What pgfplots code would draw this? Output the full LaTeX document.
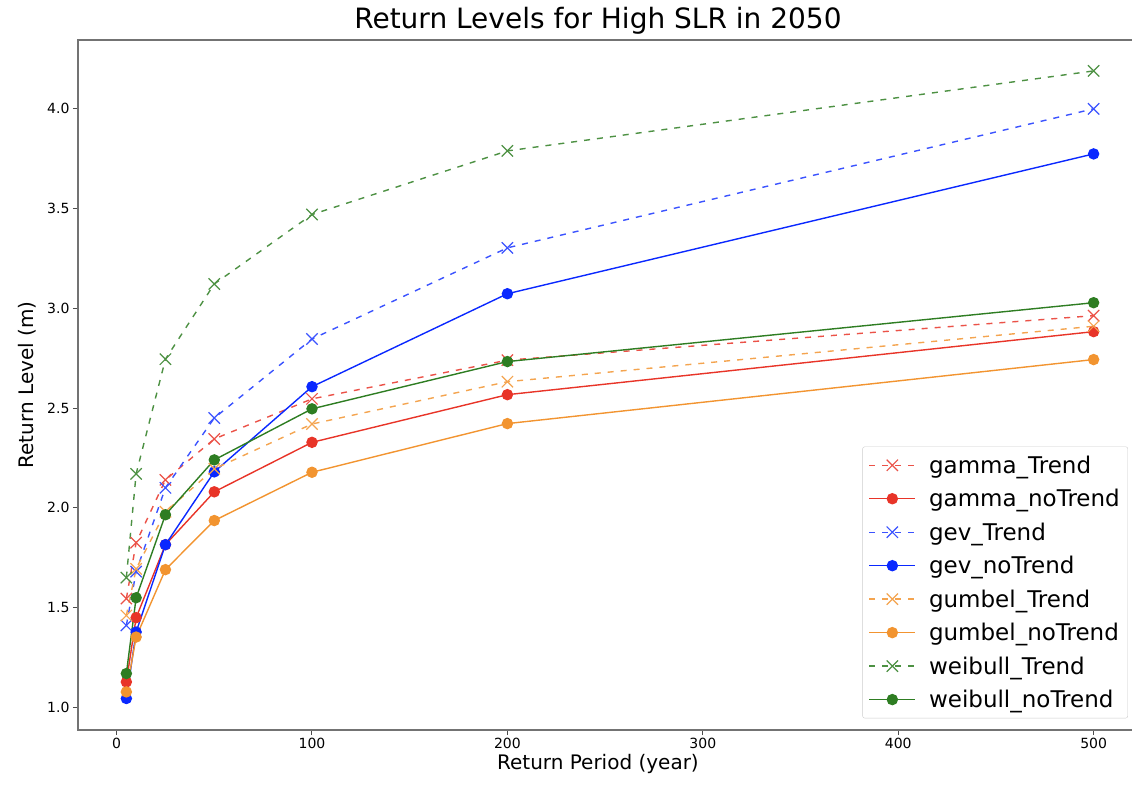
\documentclass[border=0pt]{standalone}
\usepackage{pgfplots}
\pgfplotsset{compat=1.18}
\usepackage{fontspec}
\setmainfont{DejaVu Sans}
\definecolor{cred}{RGB}{232,52,40}
\definecolor{cblue}{RGB}{10,40,255}
\definecolor{corange}{RGB}{242,148,48}
\definecolor{cgreen}{RGB}{46,125,34}
\begin{document}
\begin{tikzpicture}[x=1pt,y=1pt]
\useasboundingbox (-78,-55) rectangle (1054,730);
\begin{axis}[
  at={(0,0)}, anchor=south west,
  scale only axis,
  width=1064pt, height=690pt,
  xmin=-19.75, xmax=524.75,
  ymin=0.886, ymax=4.345,
  xtick={0,100,200,300,400,500},
  ytick={1.0,1.5,2.0,2.5,3.0,3.5,4.0},
  xtick pos=bottom, ytick pos=left,
  yticklabel style={/pgf/number format/.cd,fixed,fixed zerofill,precision=1},
  /pgf/number format/assume math mode=true,
  tick align=outside,
  major tick length=5pt,
  tick style={black!70, line width=1pt},
  ticklabel style={font=\fontsize{14}{16}\selectfont},
  axis line style={black!55, line width=1.6pt},
  title={Return Levels for High SLR in 2050},
  title style={at={(axis description cs:0.4887,1)}, font=\fontsize{28}{33}\selectfont, yshift=-4pt},
  xlabel={Return Period (year)},
  ylabel={Return Level (m)},
  label style={font=\fontsize{20}{24}\selectfont},
  xlabel style={at={(ticklabel cs:0.4887)}, yshift=2pt},
  ylabel style={yshift=4pt},
  legend style={at={(axis description cs:0.9868,0.017)}, anchor=south east, font=\fontsize{23}{27}\selectfont,
    draw=black!20, rounded corners=2pt, row sep=14.5pt, inner xsep=6pt, inner ysep=9pt,
    nodes={inner xsep=2pt, inner ysep=0pt},
    /tikz/every odd column/.append style={column sep=11pt}},
  legend cell align=left,
  legend image code/.code={%
    \draw[line width=1.4pt, mark repeat=2,mark phase=2] plot coordinates {(0pt,0pt) (23pt,0pt) (46pt,0pt)};},
  every axis plot/.append style={line width=1.4pt},
]
% gamma_Trend
\addplot[cred!85, dash pattern=on 6pt off 7pt, mark=x, mark size=8pt, mark options={solid, line width=1.2pt}] coordinates {
(5,1.545) (10,1.825) (25,2.14) (50,2.345) (100,2.546) (200,2.74) (500,2.963)};
\addlegendentry{gamma\_Trend}
% gamma_noTrend
\addplot[cred, mark=*, mark size=5pt] coordinates {
(5,1.127) (10,1.449) (25,1.815) (50,2.08) (100,2.328) (200,2.567) (500,2.883)};
\addlegendentry{gamma\_noTrend}
% gev_Trend
\addplot[cblue!80, dash pattern=on 6pt off 7pt, mark=x, mark size=8pt, mark options={solid, line width=1.2pt}] coordinates {
(5,1.41) (10,1.68) (25,2.10) (50,2.45) (100,2.846) (200,3.303) (500,4.0)};
\addlegendentry{gev\_Trend}
% gev_noTrend
\addplot[cblue, mark=*, mark size=5pt] coordinates {
(5,1.044) (10,1.377) (25,1.815) (50,2.18) (100,2.607) (200,3.073) (500,3.774)};
\addlegendentry{gev\_noTrend}
% gumbel_Trend
\addplot[corange!85, dash pattern=on 6pt off 7pt, mark=x, mark size=8pt, mark options={solid, line width=1.2pt}] coordinates {
(5,1.46) (10,1.694) (25,1.98) (50,2.195) (100,2.42) (200,2.632) (500,2.91)};
\addlegendentry{gumbel\_Trend}
% gumbel_noTrend
\addplot[corange, mark=*, mark size=5pt] coordinates {
(5,1.077) (10,1.352) (25,1.69) (50,1.936) (100,2.178) (200,2.422) (500,2.743)};
\addlegendentry{gumbel\_noTrend}
% weibull_Trend
\addplot[cgreen!85, dash pattern=on 6pt off 7pt, mark=x, mark size=8pt, mark options={solid, line width=1.2pt}] coordinates {
(5,1.65) (10,2.17) (25,2.745) (50,3.122) (100,3.47) (200,3.789) (500,4.19)};
\addlegendentry{weibull\_Trend}
% weibull_noTrend
\addplot[cgreen, mark=*, mark size=5pt] coordinates {
(5,1.169) (10,1.549) (25,1.965) (50,2.24) (100,2.496) (200,2.733) (500,3.028)};
\addlegendentry{weibull\_noTrend}
\end{axis}
\end{tikzpicture}
\end{document}
